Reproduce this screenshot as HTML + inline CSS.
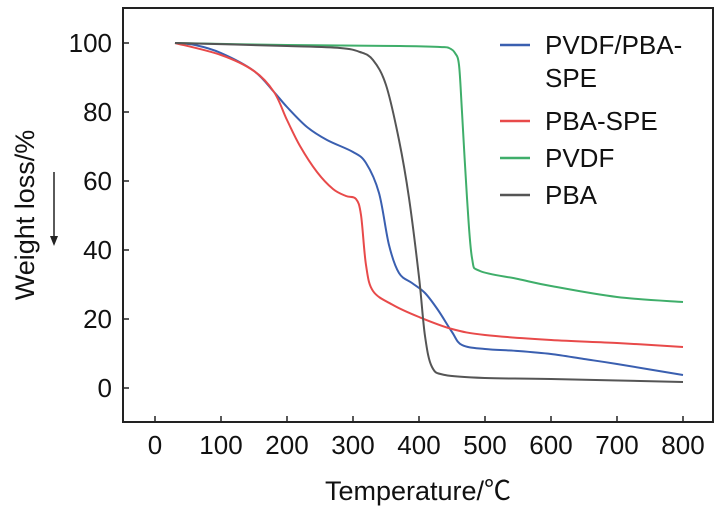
<!DOCTYPE html><html><head><style>body{margin:0;background:#fff}svg{display:block}text{font-family:"Liberation Sans","Noto Sans CJK SC",sans-serif;fill:#111}</style></head><body>
<svg width="722" height="512" viewBox="0 0 722 512">
<rect x="123" y="8" width="590" height="414" fill="none" stroke="#222" stroke-width="2"/>
<g stroke="#222" stroke-width="1.5">
<line x1="123" y1="43" x2="129" y2="43"/><line x1="123" y1="112" x2="129" y2="112"/><line x1="123" y1="181" x2="129" y2="181"/><line x1="123" y1="250" x2="129" y2="250"/><line x1="123" y1="319" x2="129" y2="319"/><line x1="123" y1="388" x2="129" y2="388"/>
<line x1="155" y1="422" x2="155" y2="416"/><line x1="221" y1="422" x2="221" y2="416"/><line x1="287" y1="422" x2="287" y2="416"/><line x1="353" y1="422" x2="353" y2="416"/><line x1="419" y1="422" x2="419" y2="416"/><line x1="485" y1="422" x2="485" y2="416"/><line x1="551" y1="422" x2="551" y2="416"/><line x1="617" y1="422" x2="617" y2="416"/><line x1="683" y1="422" x2="683" y2="416"/>
</g>
<g font-size="26" text-anchor="end"><text x="112" y="52">100</text><text x="112" y="121">80</text><text x="112" y="190">60</text><text x="112" y="259">40</text><text x="112" y="328">20</text><text x="112" y="397">0</text></g>
<g font-size="26" text-anchor="middle"><text x="155" y="454">0</text><text x="221" y="454">100</text><text x="287" y="454">200</text><text x="353" y="454">300</text><text x="419" y="454">400</text><text x="485" y="454">500</text><text x="551" y="454">600</text><text x="617" y="454">700</text><text x="683" y="454">800</text></g>
<text x="418" y="500" font-size="27" text-anchor="middle">Temperature/℃</text>
<text transform="translate(34,215) rotate(-90)" font-size="27" text-anchor="middle">Weight loss/%</text>
<line x1="54" y1="172" x2="54" y2="240" stroke="#222" stroke-width="1.5"/><path d="M50,236 L54,246 L58,236 Z" fill="#222"/>
<g fill="none" stroke-width="2" stroke-linejoin="round">
<path id="b" stroke="#3a5fb0"/><path id="r" stroke="#e84a4a"/><path id="g" stroke="#3fae6a"/><path id="k" stroke="#555"/>
</g>
<g stroke-width="2.5"><line x1="500" y1="45" x2="530" y2="45" stroke="#3a5fb0"/><line x1="500" y1="121" x2="530" y2="121" stroke="#e84a4a"/><line x1="500" y1="158" x2="530" y2="158" stroke="#3fae6a"/><line x1="500" y1="195" x2="530" y2="195" stroke="#555"/></g>
<g font-size="26"><text x="545" y="54">PVDF/PBA-</text><text x="545" y="87">SPE</text><text x="545" y="130">PBA-SPE</text><text x="545" y="167">PVDF</text><text x="545" y="204">PBA</text></g>
</svg>
<script>
function sm(s){var p=s.trim().split(/\s+/).map(function(a){return a.split(',').map(Number)});var d='M'+p[0];for(var i=0;i<p.length-1;i++){var a=p[i-1]||p[i],b=p[i],c=p[i+1],e=p[i+2]||c;var c1=[b[0]+(c[0]-a[0])/6,b[1]+(c[1]-a[1])/6],c2=[c[0]-(e[0]-b[0])/6,c[1]-(e[1]-b[1])/6];d+=' C'+c1+' '+c2+' '+c;}return d;}
var D={b:"175,43 195,45 221,53 254,71 274,92 287,107 307,127 327,140 353,152 366,163 379,193 389,245 399,273 412,283 425,293 438,310 452,332 462,345 485,349 518,351 551,354 584,359 617,364 683,375",
r:"175,43 221,55 254,71 274,92 287,120 300,146 317,172 333,189 346,196 356,199 361,215 366,265 373,291 393,305 419,317 452,329 485,335 551,340 617,343 683,347",
g:"175,43 287,45 400,46 440,47 449,48 455,53 459,65 462,112 467,198 472,258 480,271 518,279 551,286 617,297 683,302",
k:"175,43 287,46 340,48 360,52 373,60 386,85 399,140 409,198 419,277 425,336 432,367 445,375 485,378 551,379 683,382"};
for(var k in D)document.getElementById(k).setAttribute('d',sm(D[k]));
</script></body></html>
